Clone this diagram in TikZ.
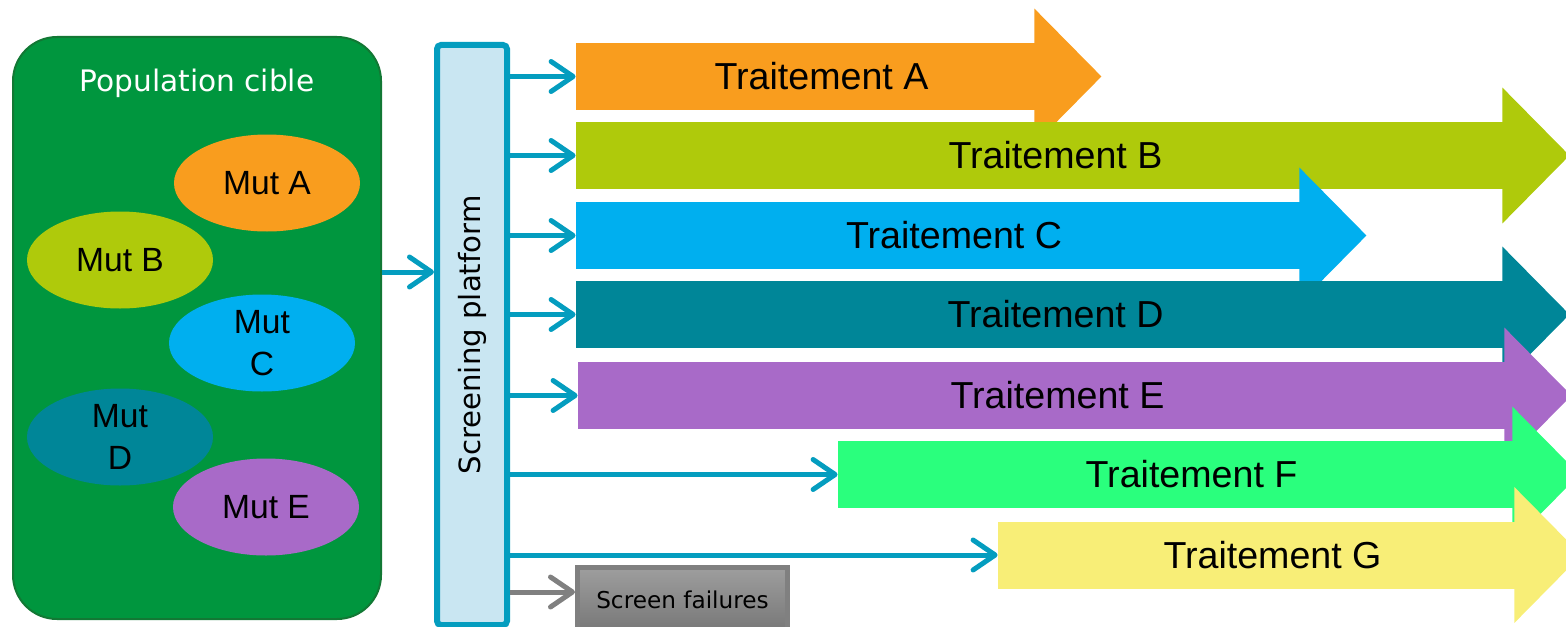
\documentclass[tikz,border=0pt]{standalone}
\usepackage{fontspec}
\setmainfont{Liberation Sans}
\newfontfamily\verd{DejaVu Sans}
\usetikzlibrary{shapes.geometric,arrows.meta,calc}
\definecolor{popgreen}{RGB}{0,150,62}
\definecolor{popedge}{RGB}{18,120,52}
\definecolor{linkblue}{RGB}{4,157,191}
\definecolor{platfill}{RGB}{201,230,242}
\definecolor{colA}{RGB}{249,157,30}
\definecolor{colB}{RGB}{175,202,11}
\definecolor{colC}{RGB}{0,175,239}
\definecolor{colD}{RGB}{0,134,152}
\definecolor{colE}{RGB}{168,106,200}
\definecolor{colF}{RGB}{42,255,125}
\definecolor{colG}{RGB}{248,238,119}

\begin{document}
\begin{tikzpicture}[x=0.5pt, y=-0.5pt,
    mut/.style = {ellipse, minimum width=93pt, minimum height=48.5pt, inner sep=0pt, align=center, font=\fontsize{16.8}{21}\selectfont},
    bar/.style = {rectangle, minimum height=33.5pt, inner sep=0pt, font=\fontsize{18.8}{22}\selectfont},
    link/.style = {draw=linkblue, line width=2.5pt, -{Straight Barb[length=11pt, width=15pt, round]}}]
    \useasboundingbox (0,0) rectangle (1566,626);
    \clip (0,0) rectangle (1566,626);
    % population
    \node[draw=popedge, fill=popgreen, line width=1pt, rounded corners=22pt, minimum width=184pt, minimum height=291pt] (pop) at (197,328) {};
    \node[text=white, font=\verd\fontsize{14.8}{17}\selectfont] (title) at (197,83) {Population cible};
    \node[mut, fill=colA] (mA) at (267,183) {Mut A};
    \node[mut, fill=colB] (mB) at (120,260) {Mut B};
    \node[mut, fill=colC] (mC) at (262,343) {Mut\\C};
    \node[mut, fill=colD] (mD) at (120,437) {Mut\\D};
    \node[mut, fill=colE] (mE) at (266,507) {Mut E};
    % screening
    \node[draw=linkblue, fill=platfill, line width=3pt, rounded corners=2pt, minimum width=35pt, minimum height=290pt, inner sep=0pt, font=\verd\fontsize{14.6}{17}\selectfont] (plat) at (472,335) {\rotatebox{90}{Screening platform}};
    \draw[link] (pop.east |- 0,272) -- (plat.west |- 0,272);
    % treatments
    \node[bar, fill=colA, minimum width=229.5pt] (tA) at (805.5,76.5) {\hspace*{16pt}Traitement A};
    \fill[colA] ($(tA.north east)+(-1,0)$) -- ++(0,-34) -- ($(tA.east)+(66,0)$) -- ($(tA.south east)+(-1,34)$) -- ++(0,-34) -- cycle;
    \node[bar, fill=colB, minimum width=463.5pt] (tB) at (1039.5,155.5) {\hspace*{16pt}Traitement B};
    \fill[colB] ($(tB.north east)+(-1,0)$) -- ++(0,-34) -- ($(tB.east)+(66,0)$) -- ($(tB.south east)+(-1,34)$) -- ++(0,-34) -- cycle;
    \node[bar, fill=colC, minimum width=362pt] (tC) at (938,235.5) {\hspace*{16pt}Traitement C};
    \fill[colC] ($(tC.north east)+(-1,0)$) -- ++(0,-34) -- ($(tC.east)+(66,0)$) -- ($(tC.south east)+(-1,34)$) -- ++(0,-34) -- cycle;
    \node[bar, fill=colD, minimum width=463.5pt] (tD) at (1039.5,314.5) {\hspace*{16pt}Traitement D};
    \fill[colD] ($(tD.north east)+(-1,0)$) -- ++(0,-34) -- ($(tD.east)+(66,0)$) -- ($(tD.south east)+(-1,34)$) -- ++(0,-34) -- cycle;
    \node[bar, fill=colE, minimum width=463.5pt] (tE) at (1041.5,395.5) {\hspace*{16pt}Traitement E};
    \fill[colE] ($(tE.north east)+(-1,0)$) -- ++(0,-34) -- ($(tE.east)+(66,0)$) -- ($(tE.south east)+(-1,34)$) -- ++(0,-34) -- cycle;
    \node[bar, fill=colF, minimum width=337.5pt] (tF) at (1175.5,474.5) {\hspace*{16pt}Traitement F};
    \fill[colF] ($(tF.north east)+(-1,0)$) -- ++(0,-34) -- ($(tF.east)+(66,0)$) -- ($(tF.south east)+(-1,34)$) -- ++(0,-34) -- cycle;
    \node[bar, fill=colG, minimum width=258.5pt] (tG) at (1256.5,555) {\hspace*{16pt}Traitement G};
    \fill[colG] ($(tG.north east)+(-1,0)$) -- ++(0,-34) -- ($(tG.east)+(66,0)$) -- ($(tG.south east)+(-1,34)$) -- ++(0,-34) -- cycle;
    \node[draw=black!50, top color=black!38, bottom color=black!55, line width=2.5pt, minimum width=105pt, minimum height=36pt, inner sep=0pt, font=\verd\fontsize{11.6}{14}\selectfont] (fail) at (682.5,603) {\raisebox{3pt}{Screen failures}};
    \draw[link] (plat.east |- tA.west) -- (tA.west);
    \draw[link] (plat.east |- tB.west) -- (tB.west);
    \draw[link] (plat.east |- tC.west) -- (tC.west);
    \draw[link] (plat.east |- tD.west) -- (tD.west);
    \draw[link] (plat.east |- tE.west) -- (tE.west);
    \draw[link] (plat.east |- tF.west) -- (tF.west);
    \draw[link] (plat.east |- tG.west) -- (tG.west);
    \draw[link, draw=black!50] (plat.east |- 0,592) -- (fail.west |- 0,592);
\end{tikzpicture}
\end{document}
